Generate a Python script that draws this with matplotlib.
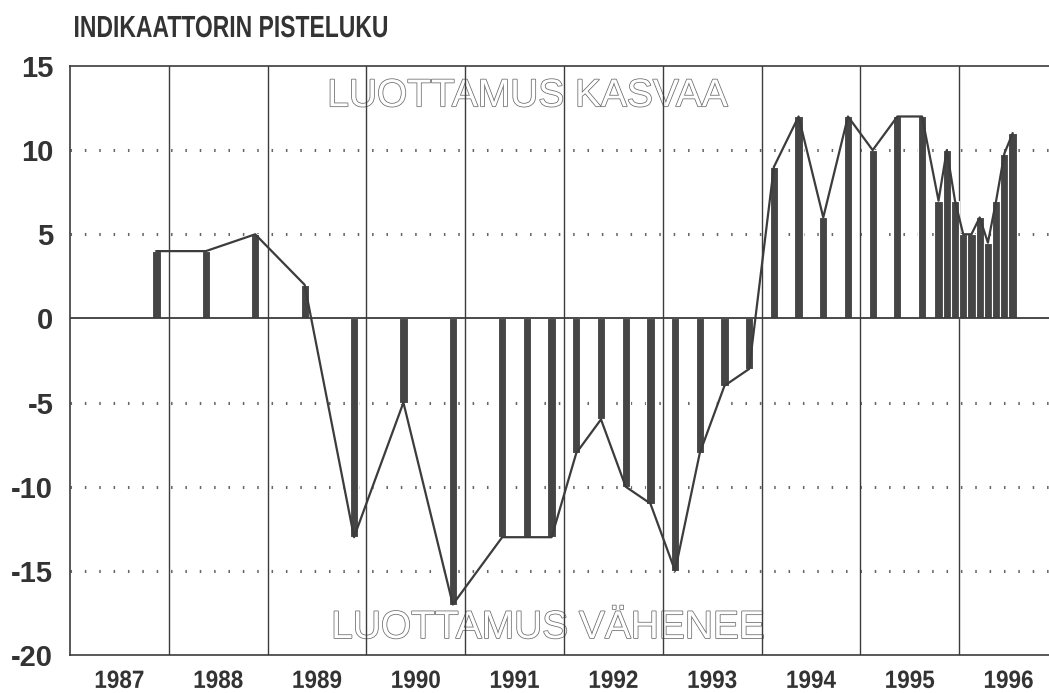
import matplotlib
matplotlib.use("Agg")
import matplotlib.pyplot as plt
import matplotlib.patheffects as pe
from matplotlib.transforms import Affine2D
import numpy as np

# Datos: vuosi, kuukausi, pisteluku
vuodet = [1987, 1988, 1988, 1989, 1989, 1990, 1990,
          1991, 1991, 1991,
          1992, 1992, 1992, 1992,
          1993, 1993, 1993, 1993,
          1994, 1994, 1994, 1994,
          1995, 1995, 1995, 1995, 1995, 1995,
          1996, 1996, 1996, 1996, 1996, 1996, 1996]
kuukaudet = [11, 5, 11, 5, 11, 5, 11,
             5, 8, 11,
             2, 5, 8, 11,
             2, 5, 8, 11,
             2, 5, 8, 11,
             2, 5, 8, 10, 11, 12,
             1, 2, 3, 4, 5, 6, 7]
pisteet = [4, 4, 5, 2, -13, -5, -17,
           -13, -13, -13,
           -8, -6, -10, -11,
           -15, -8, -4, -3,
           9, 12, 6, 12,
           10, 12, 12, 7, 10, 7,
           5, 5, 6, 4.5, 7, 9.8, 11]
vuosi_labels = ["1987", "1988", "1989", "1990", "1991", "1992", "1993", "1994", "1995", "1996"]

x = np.array(vuodet) + (np.array(kuukaudet) - 0.5) / 12


# kapeampi fontti (condensed) vaakaskaalauksella
class Kapea(pe.AbstractPathEffect):
    def __init__(self, sx, keskelta=False):
        super().__init__()
        self.sx = sx
        self.keskelta = keskelta

    def draw_path(self, renderer, gc, tpath, affine, rgbFace=None):
        ext = tpath.get_extents(affine)
        x0 = (ext.x0 + ext.x1) / 2 if self.keskelta else ext.x0
        a = affine + Affine2D().translate(-x0, 0).scale(self.sx, 1).translate(x0, 0)
        renderer.draw_path(gc, tpath, a, rgbFace)


fig = plt.figure(figsize=(10.49, 6.93), dpi=100)
ax = fig.add_axes([70 / 1049, 1 - 655 / 693, 1 - 70 / 1049, (655 - 66) / 693])

tumma = "#3c3c3c"

# pylväät ja viiva
ax.bar(x, pisteet, width=1 / 12, color="#454545", edgecolor="white", linewidth=0.8, zorder=2)
ax.plot(x, pisteet, color=tumma, linewidth=1.6, zorder=3)

ax.set_xlim(1987, 1996.91)
ax.set_ylim(-20, 15)

# ruudukko
for y in [10, 5, -5, -10, -15]:
    ax.axhline(y, color="#666666", linewidth=2.2, linestyle=(0, (0.5, 4.2)), zorder=1)
ax.axhline(0, color=tumma, linewidth=1.3, zorder=2.5)
for v in range(1988, 1997):
    ax.axvline(v, color=tumma, linewidth=1.0, zorder=1)

for s in ["top", "left", "bottom"]:
    ax.spines[s].set_color(tumma)
    ax.spines[s].set_linewidth(1.2)
ax.spines["right"].set_visible(False)

ax.set_yticks([15, 10, 5, 0, -5, -10, -15, -20])
ax.set_yticklabels(["15", "10", "5", "0", "-5", "-10", "-15", "-20"],
                   fontsize=21, fontweight="bold", color="#333333", family="Liberation Sans")
ax.tick_params(axis="y", length=0, pad=12)

ax.set_xticks([v + 0.5 for v in range(1987, 1997)])
ax.set_xticklabels(vuosi_labels, fontsize=18, fontweight="bold", color="#333333",
                   family="Liberation Sans", path_effects=[Kapea(0.9, True)])
ax.tick_params(axis="x", length=0, pad=10)

# ääriviivatekstit
reuna = [pe.Stroke(linewidth=1.1, foreground="#6a6a6a"), pe.Normal()]
ax.text(1991.63, 13.2, "LUOTTAMUS KASVAA", fontsize=28, color="white", family="Liberation Sans",
        ha="center", va="center", path_effects=reuna, zorder=0.8)
ax.text(1991.84, -18.4, "LUOTTAMUS VÄHENEE", fontsize=28, color="white", family="Liberation Sans",
        ha="center", va="center", path_effects=reuna, zorder=0.8)

fig.text(73 / 1049, 1 - 29 / 693, "INDIKAATTORIN PISTELUKU", fontsize=22, fontweight="bold",
         color="#333333", family="Liberation Sans", ha="left", va="center",
         path_effects=[Kapea(0.75)])

fig.savefig("out.png", dpi=100)
